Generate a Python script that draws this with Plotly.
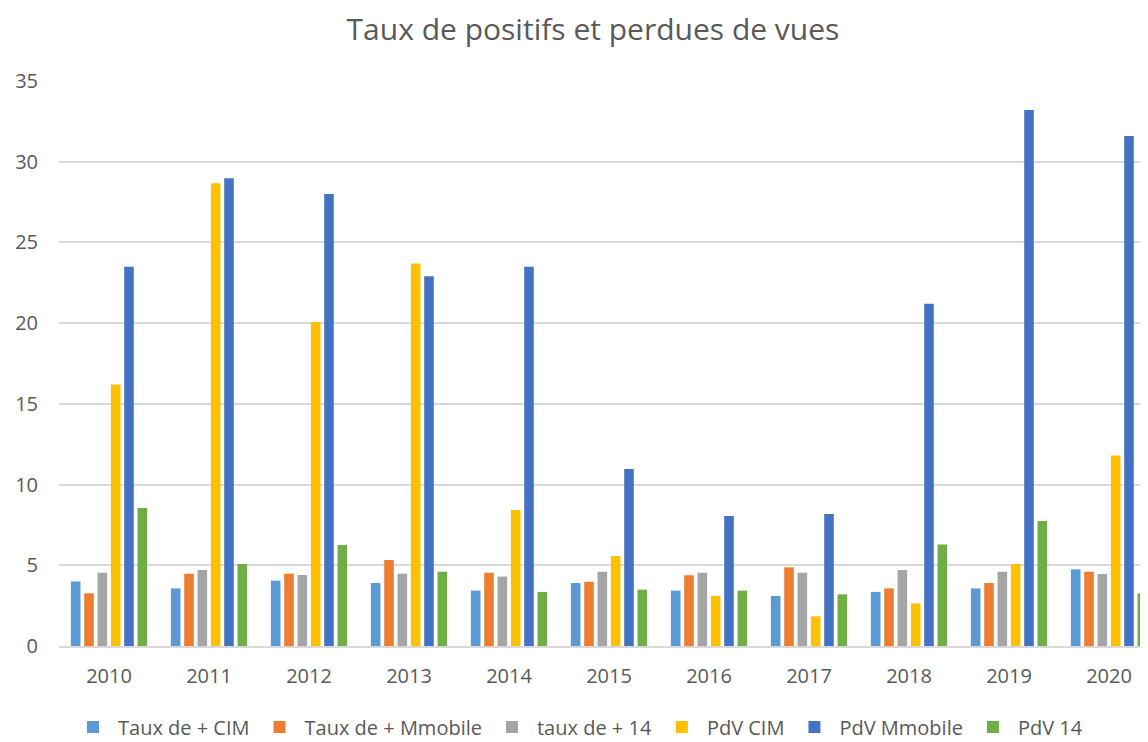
import plotly.graph_objects as go

years = ["2010", "2011", "2012", "2013", "2014", "2015", "2016", "2017", "2018", "2019", "2020"]
series_names = ["Taux de + CIM", "Taux de + Mmobile", "taux de + 14", "PdV CIM", "PdV Mmobile", "PdV 14"]

taux_cim = [4.0, 3.57, 4.05, 3.9, 3.43, 3.9, 3.43, 3.1, 3.35, 3.57, 4.75]
taux_mmobile = [3.26, 4.48, 4.48, 5.33, 4.54, 3.98, 4.38, 4.87, 3.57, 3.9, 4.6]
taux_14 = [4.54, 4.71, 4.4, 4.48, 4.3, 4.6, 4.54, 4.54, 4.71, 4.6, 4.46]
pdv_cim = [16.2, 28.67, 20.07, 23.7, 8.43, 5.58, 3.1, 1.84, 2.64, 5.08, 11.8]
pdv_mmobile = [23.5, 28.98, 28.0, 22.9, 23.5, 10.97, 8.05, 8.18, 21.2, 33.2, 31.6]
pdv_14 = [8.55, 5.08, 6.26, 4.6, 3.35, 3.49, 3.43, 3.2, 6.28, 7.74, 3.26]

colors = ["#5B9BD5", "#ED7D31", "#A5A5A5", "#FFC000", "#4472C4", "#70AD47"]
all_series = [taux_cim, taux_mmobile, taux_14, pdv_cim, pdv_mmobile, pdv_14]

fig = go.Figure()
for name, vals, col in zip(series_names, all_series, colors):
    fig.add_trace(go.Bar(x=years, y=vals, name=name, marker=dict(color=col, line=dict(width=0))))

font_family = "Open Sans, Lato, DejaVu Sans, sans-serif"
W, H = 1140, 734
fig.update_layout(
    width=W, height=H,
    paper_bgcolor="white", plot_bgcolor="white",
    barmode="group", bargap=0.2, bargroupgap=0.28,
    margin=dict(l=51, r=0, t=73, b=96),
    title=dict(text="Taux de positifs et perdues de vues", x=585 / W, xref="container", xanchor="center",
               y=1 - 21 / H, yref="container", yanchor="middle",
               font=dict(family=font_family, size=30, color="#595959")),
    xaxis=dict(type="category", range=[-0.5, 10.39], showgrid=False, zeroline=False,
               showline=True, linecolor="#D9D9D9", linewidth=1.5, ticks="", ticklabelstandoff=11,
               tickfont=dict(family=font_family, size=20, color="#595959")),
    yaxis=dict(range=[0, 35], dtick=5, showgrid=True, gridcolor="#D9D9D9", gridwidth=1.5,
               zeroline=False, ticks="", ticklabelstandoff=20,
               tickfont=dict(family=font_family, size=20, color="#595959")),
    legend=dict(orientation="h", x=0.5, xanchor="center", xref="container", y=1 - 719 / H, yref="container",
                yanchor="middle", font=dict(family=font_family, size=20, color="#595959"),
                itemwidth=40, tracegroupgap=0),
    showlegend=True,
)
fig.write_html("out.html")
